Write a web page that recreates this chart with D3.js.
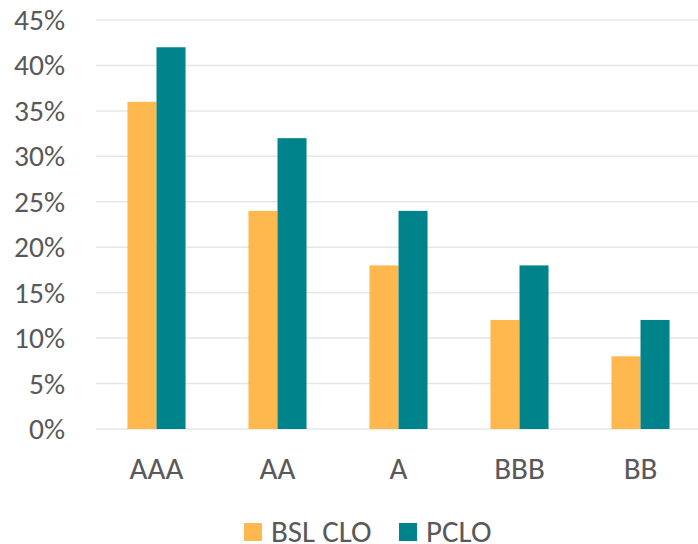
<!DOCTYPE html>
<html>
<head>
<meta charset="utf-8">
<script src="https://cdn.jsdelivr.net/npm/d3@7"></script>
<style>
  html, body { margin: 0; padding: 0; background: #fff; }
  svg { display: block; }
  text { font-family: Carlito, Calibri, "Open Sans", sans-serif; fill: #595959; }
</style>
</head>
<body>
<svg id="chart" width="698" height="544"></svg>
<script>
const categories = ["AAA", "AA", "A", "BBB", "BB"];
const seriesNames = ["BSL CLO", "PCLO"];
const bslClo = [36, 24, 18, 12, 8];
const pclo = [42, 32, 24, 18, 12];
const yTicks = [0, 5, 10, 15, 20, 25, 30, 35, 40, 45];
const colors = ["#FFB84E", "#00838A"];

(function () {
const svg = d3.select("#chart");
const pLeft = 96, pRight = 701, pTop = 20, pBottom = 429;

const x = d3.scaleBand().domain(categories).range([pLeft, pRight]).paddingInner(0.52).paddingOuter(0.26);
const x1 = d3.scaleBand().domain(seriesNames).range([0, x.bandwidth()]);
const y = d3.scaleLinear().domain([0, 45]).range([pBottom, pTop]);

// gridlines
svg.append("g").selectAll("line").data(yTicks).join("line")
  .attr("x1", pLeft).attr("x2", 698)
  .attr("y1", d => y(d)).attr("y2", d => y(d))
  .attr("stroke", "#E6E6E6").attr("stroke-width", 1.5);

// y axis labels
const yAxis = d3.axisLeft(y).tickValues(yTicks).tickFormat(d => d + "%").tickSize(0).tickPadding(0);
const ya = svg.append("g").attr("transform", "translate(65,0)").call(yAxis);
ya.select(".domain").remove();
ya.selectAll("text").style("font-size", "29.5px").attr("fill", "#595959")
  .style("font-family", "Carlito, Calibri, 'Open Sans', sans-serif");

// bars
const data = categories.map((c, i) => ({ c, vals: [bslClo[i], pclo[i]] }));
const groups = svg.append("g").selectAll("g").data(data).join("g")
  .attr("transform", d => `translate(${x(d.c)},0)`);
groups.selectAll("rect").data(d => d.vals.map((v, j) => ({ v, s: seriesNames[j], j })))
  .join("rect")
  .attr("x", d => x1(d.s))
  .attr("width", x1.bandwidth())
  .attr("y", d => y(d.v))
  .attr("height", d => y(0) - y(d.v))
  .attr("fill", d => colors[d.j]);

// x axis labels
const xAxis = d3.axisBottom(x).tickSize(0).tickPadding(0);
const xa = svg.append("g").attr("transform", `translate(0,${pBottom + 30})`).call(xAxis);
xa.select(".domain").remove();
xa.selectAll("text").style("font-size", "31px").attr("fill", "#595959").attr("dy", "0.64em")
  .style("font-family", "Carlito, Calibri, 'Open Sans', sans-serif");

// legend
const legendX = [244, 399];
const lg = svg.append("g").selectAll("g").data(seriesNames).join("g")
  .attr("transform", (d, i) => `translate(${legendX[i]},523)`);
lg.append("rect").attr("width", 18).attr("height", 18).attr("fill", (d, i) => colors[i]);
lg.append("text").attr("x", 27).attr("y", 19).text(d => d).style("font-size", "31px");
})();
</script>
</body>
</html>
